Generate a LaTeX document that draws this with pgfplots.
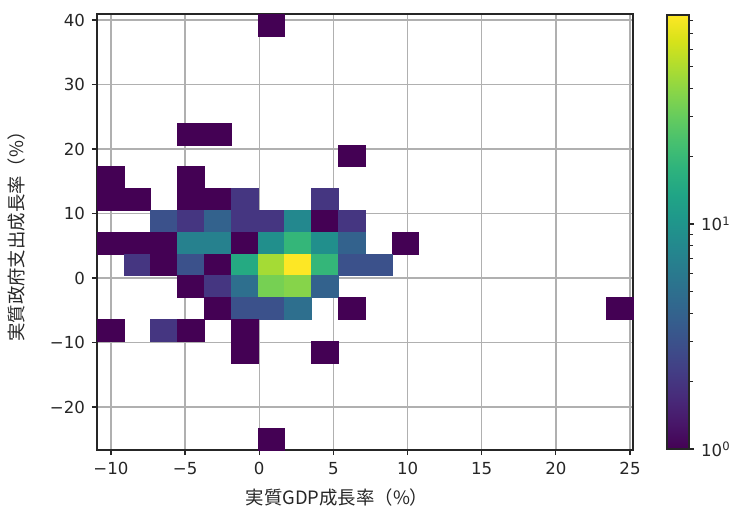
\documentclass[border=0pt]{standalone}
\usepackage{pgfplots}
\usepackage{pgfplotstable}
\pgfplotsset{compat=1.18}
\usepackage{fontspec}
\setmainfont{DejaVu Sans}
\newfontfamily\cjk{Noto Sans CJK JP}
\definecolor{gridgray}{RGB}{176,176,176}

% bin centres (x: GDP growth, y: gov. expenditure growth) and counts
\pgfplotstableread{
x y n
0.81 39.24 1
-4.62 22.34 1
-2.81 22.34 1
6.23 18.96 1
-10.04 15.58 1
-4.62 15.58 1
-10.04 12.20 1
-8.23 12.20 1
-4.62 12.20 1
-2.81 12.20 1
-1.00 12.20 2
4.42 12.20 2
-6.42 8.82 3
-4.62 8.82 2
-2.81 8.82 4
-1.00 8.82 2
0.81 8.82 2
2.61 8.82 8
4.42 8.82 1
6.23 8.82 2
-10.04 5.44 1
-8.23 5.44 1
-6.42 5.44 1
-4.62 5.44 7
-2.81 5.44 7
-1.00 5.44 1
0.81 5.44 9
2.61 5.44 19
4.42 5.44 9
6.23 5.44 4
9.84 5.44 1
-8.23 2.06 2
-6.42 2.06 1
-4.62 2.06 3
-2.81 2.06 1
-1.00 2.06 15
0.81 2.06 47
2.61 2.06 85
4.42 2.06 19
6.23 2.06 3
8.03 2.06 3
-4.62 -1.32 1
-2.81 -1.32 2
-1.00 -1.32 5
0.81 -1.32 34
2.61 -1.32 38
4.42 -1.32 4
-2.81 -4.70 1
-1.00 -4.70 3
0.81 -4.70 3
2.61 -4.70 5
6.23 -4.70 1
24.30 -4.70 1
-10.04 -8.08 1
-6.42 -8.08 2
-4.62 -8.08 1
-1.00 -8.08 1
-1.00 -11.46 1
4.42 -11.46 1
0.81 -24.98 1
}\histdata

\begin{document}
\begin{tikzpicture}
\begin{axis}[
  at={(0,0)}, anchor=south west,
  scale only axis,
  width=268pt, height=218pt,
  xmin=-10.94, xmax=25.20,
  ymin=-26.67, ymax=40.93,
  axis on top,
  grid=major,
  major grid style={color=gridgray, line width=0.7pt},
  axis line style={line width=0.6pt, black!85},
  tick align=outside,
  xtick pos=bottom, ytick pos=left,
  major tick length=2.5pt,
  tick style={line width=0.6pt, black!85},
  xtick={-10,-5,0,5,10,15,20,25},
  xticklabels={−10,−5,0,5,10,15,20,25},
  ytick={-20,-10,0,10,20,30,40},
  yticklabels={−20,−10,0,10,20,30,40},
  ticklabel style={font=\fontsize{8.3pt}{10pt}\selectfont, text=black!85},
  xlabel={{\cjk 実質GDP成長率（\%）}},
  ylabel={{\cjk 実質政府支出成長率（\%）}},
  xlabel style={at={(axis description cs:0.4478,-0.1078)}, anchor=center, font=\fontsize{9.2pt}{10pt}\selectfont, text=black!85},
  ylabel style={at={(axis description cs:-0.1511,0.5)}, anchor=center, rotate=0, font=\fontsize{9.2pt}{10pt}\selectfont, text=black!85},
  colormap name=viridis,
  point meta min=0, point meta max=1.92942,
  colorbar,
  colorbar style={
    scale only axis,
    at={(parent axis.north east)}, anchor=north west,
    xshift=8.5pt, yshift=-0.5pt,
    width=11pt, height=217pt,
    axis line style={line width=0.6pt, black!85},
    tick align=outside,
    ytick pos=right, yticklabel pos=right,
    ytick={0,1},
    yticklabels={10\textsuperscript{0},10\textsuperscript{1}},
    minor ytick={0.30103,0.47712,0.60206,0.69897,0.77815,0.84510,0.90309,0.95424,1.30103,1.47712,1.60206,1.69897,1.77815,1.84510,1.90309},
    major tick length=2.5pt, minor tick length=2pt,
    tick style={line width=0.6pt, black!85},
    minor tick style={line width=0.5pt, black!85},
    yticklabel style={font=\fontsize{8.3pt}{10pt}\selectfont, text=black!85},
  },
]
\addplot[
  scatter, only marks,
  mark=square*,
  mark size=5.45pt,
  mark options={xscale=1.2294},
  scatter/use mapped color={draw=mapped color, fill=mapped color},
  line width=0.2pt,
  point meta={log10(\thisrow{n})},
] table[x=x, y=y] {\histdata};
\end{axis}
\pgfresetboundingbox
\path[use as bounding box] (-48.5pt,-35.5pt) rectangle (326.5pt,225pt);
\end{tikzpicture}
\end{document}
